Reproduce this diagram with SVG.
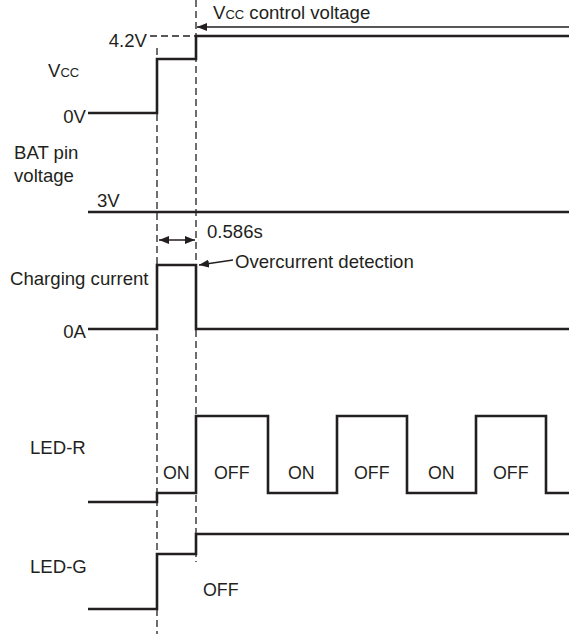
<svg xmlns="http://www.w3.org/2000/svg" width="569" height="634" viewBox="0 0 569 634">
<style>
text{font-family:"Liberation Sans",Arial,sans-serif;font-size:18.6px;fill:#231f20}
.sig{fill:none;stroke:#231f20;stroke-width:2.6;stroke-linejoin:miter}
.dash{fill:none;stroke:#231f20;stroke-width:1.3;stroke-dasharray:7,4}
.thin{fill:none;stroke:#231f20;stroke-width:1.3}
.sm{font-size:13px}
.lv{font-size:17.8px}
</style>
<defs>
<marker id="ah" viewBox="0 0 10 8" refX="10" refY="4" markerWidth="10" markerHeight="8" markerUnits="userSpaceOnUse" orient="auto-start-reverse">
<path d="M0,0 L10,4 L0,8 Z" fill="#231f20"/>
</marker>
</defs>
<g id="connectors">
<line class="dash" x1="157" y1="48" x2="157" y2="634"/>
<line class="dash" x1="196" y1="0" x2="196" y2="562"/>
<line class="dash" x1="150" y1="36" x2="196" y2="36"/>
<line class="thin" x1="569" y1="27" x2="197" y2="27" marker-end="url(#ah)"/>
<line class="thin" x1="159" y1="240" x2="195" y2="240" marker-start="url(#ah)" marker-end="url(#ah)"/>
<line class="thin" x1="233" y1="260" x2="199" y2="265" marker-end="url(#ah)"/>
</g>
<g id="vcc">
<polyline class="sig" points="88,113 157,113 157,59 196,59 196,36 569,36"/>
<text x="147" y="47" text-anchor="end">4.2V</text>
<text x="48" y="77">V<tspan class="sm">CC</tspan></text>
<text x="86" y="123" text-anchor="end">0V</text>
<text x="213" y="19">V<tspan class="sm">CC</tspan> control voltage</text>
</g>
<g id="bat">
<line class="sig" x1="88" y1="212" x2="569" y2="212"/>
<text x="14" y="159">BAT pin</text>
<text x="14" y="182">voltage</text>
<text x="97" y="207">3V</text>
<text x="207" y="238">0.586s</text>
</g>
<g id="charging">
<polyline class="sig" points="88,329 157,329 157,265 196,265 196,329 569,329"/>
<text x="10" y="285">Charging current</text>
<text x="86" y="338" text-anchor="end">0A</text>
<text x="235" y="268">Overcurrent detection</text>
</g>
<g id="ledr">
<polyline class="sig" points="88,502 157,502 157,493 196,493 196,416 268,416 268,493 337,493 337,416 407,416 407,493 476,493 476,416 546,416 546,493 569,493"/>
<text x="30" y="454">LED-R</text>
<text class="lv" x="163" y="479">ON</text>
<text class="lv" x="214" y="479">OFF</text>
<text class="lv" x="288" y="479">ON</text>
<text class="lv" x="354" y="479">OFF</text>
<text class="lv" x="428" y="479">ON</text>
<text class="lv" x="493" y="479">OFF</text>
</g>
<g id="ledg">
<polyline class="sig" points="88,609 157,609 157,554 196,554 196,534 569,534"/>
<text x="30" y="573">LED-G</text>
<text class="lv" x="203" y="596">OFF</text>
</g>
</svg>
